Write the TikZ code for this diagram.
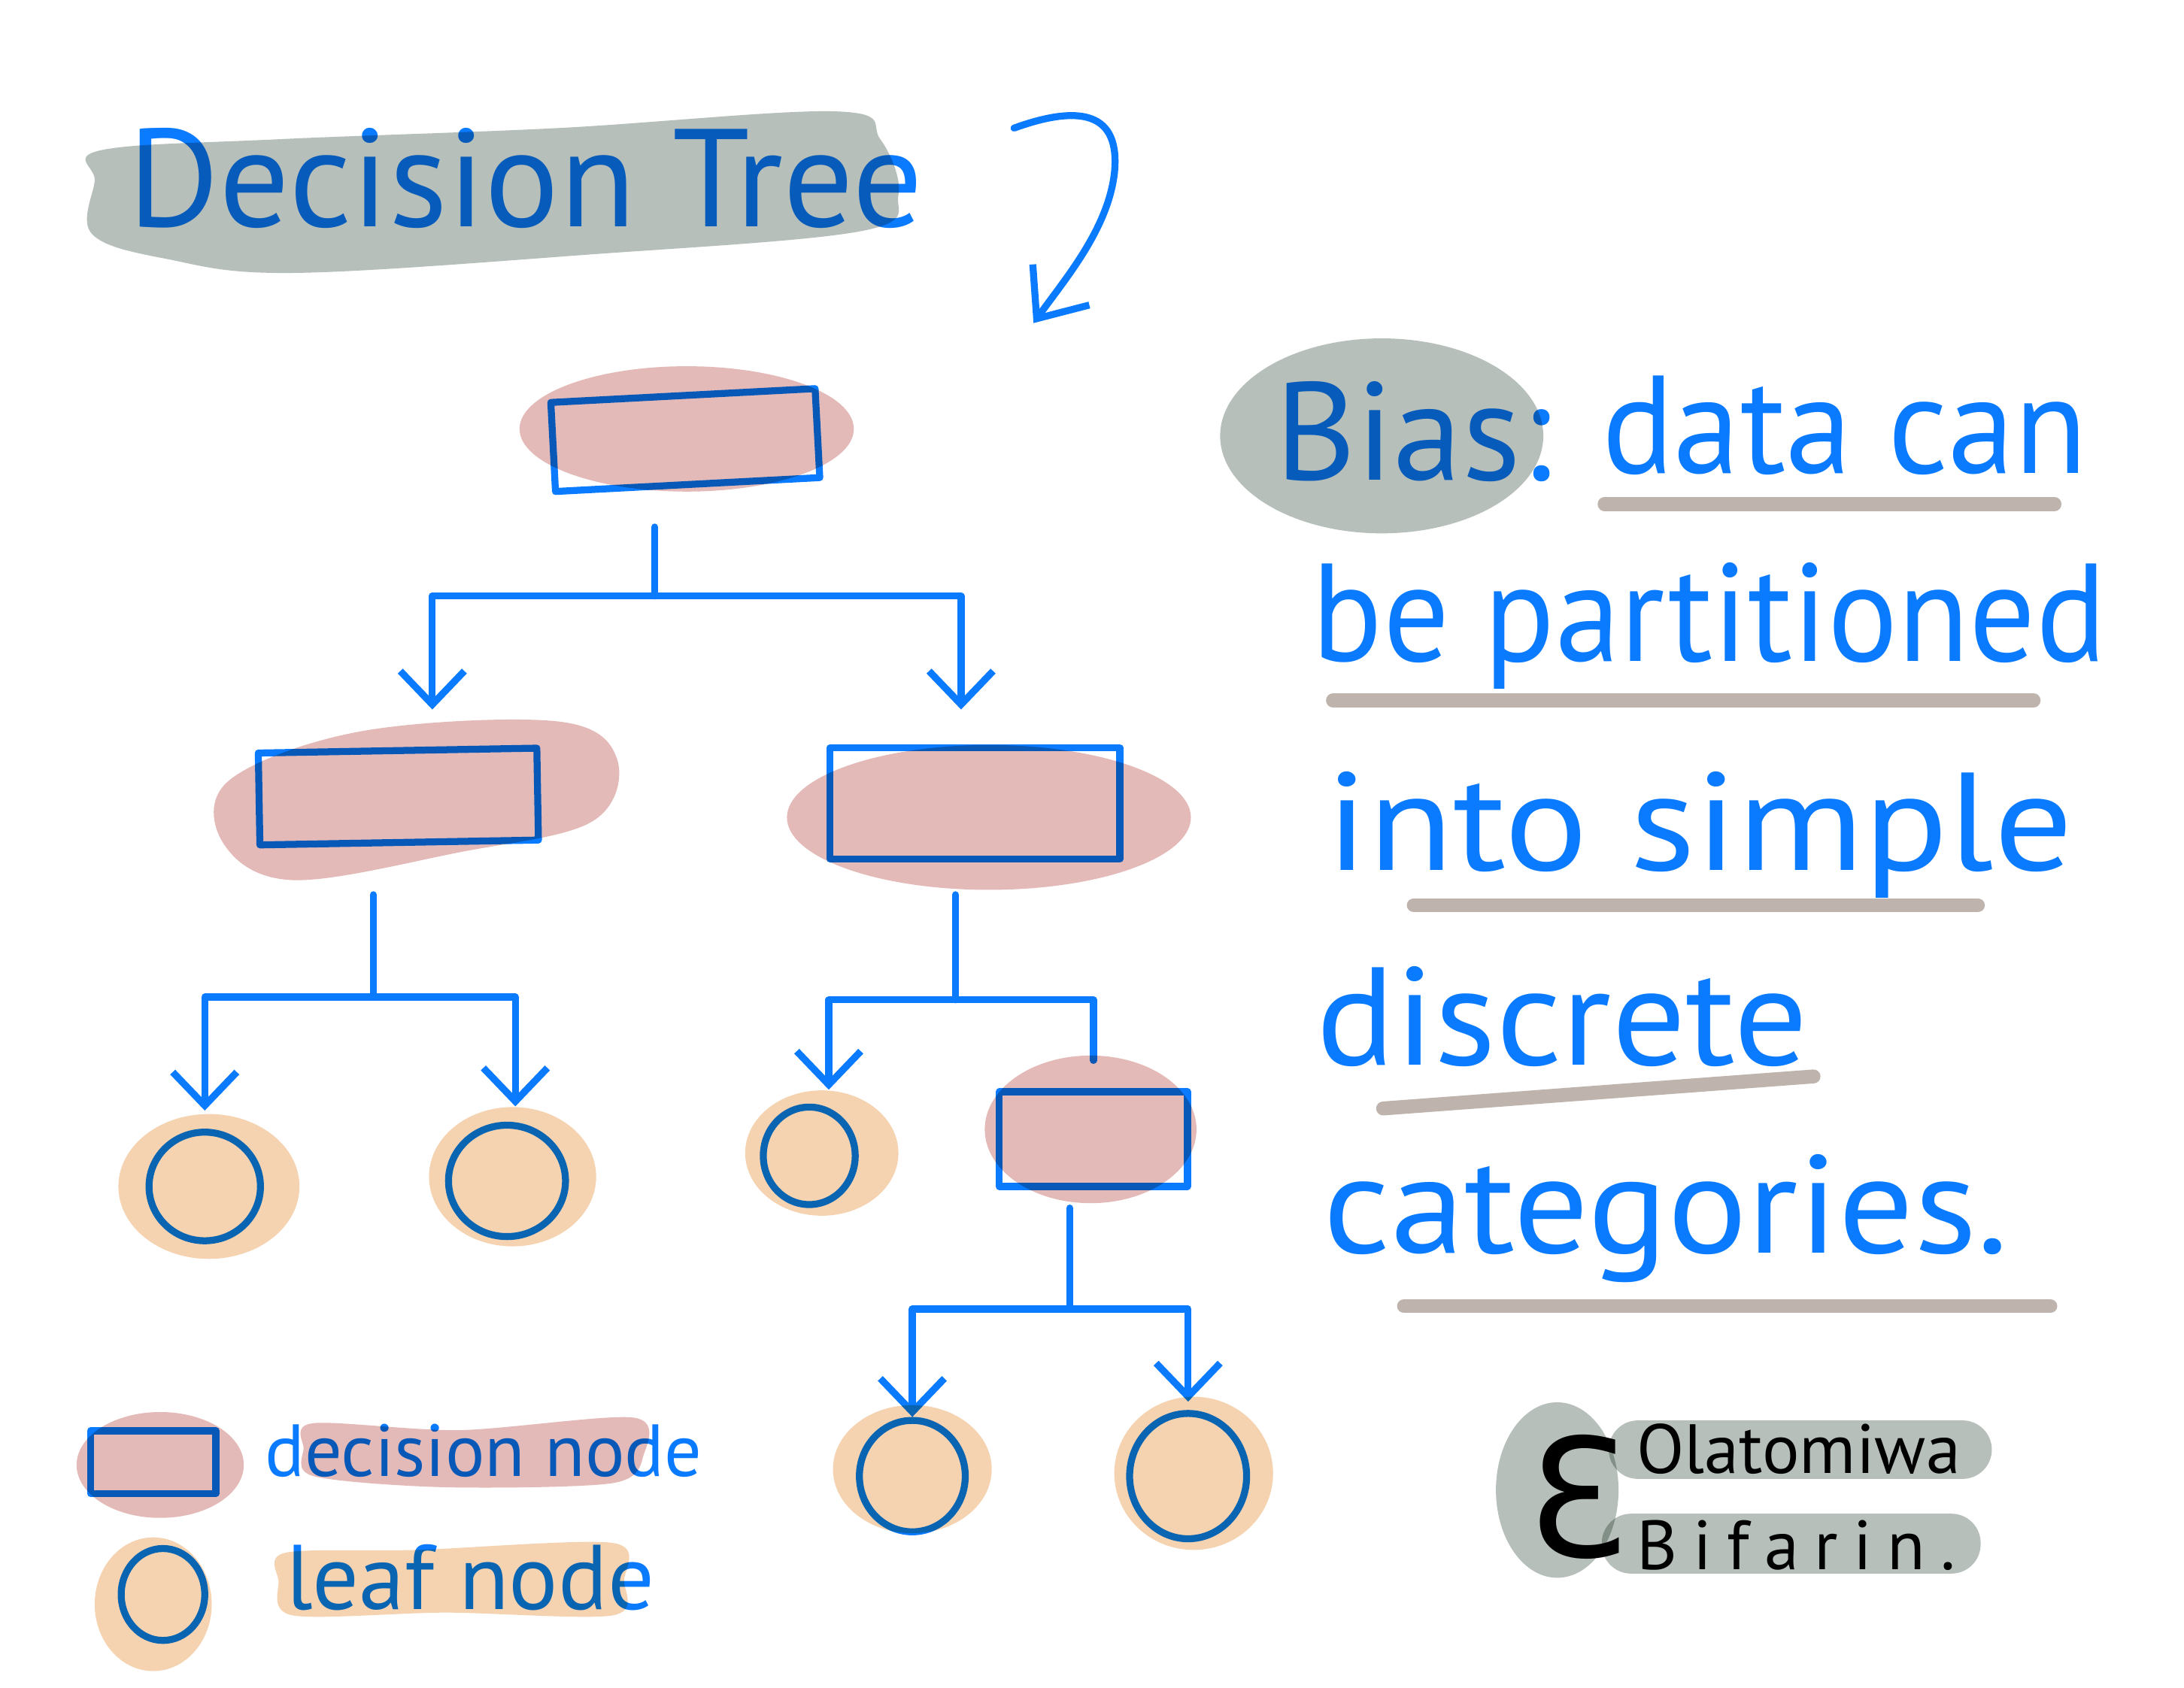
\documentclass[tikz,border=0pt]{standalone}
\usepackage{fontspec}
\setmainfont{PT Sans}
\newfontfamily\initfont{DejaVu Sans}
\usetikzlibrary{arrows.meta,shapes.geometric}
\definecolor{penblue}{RGB}{10,122,255}
\definecolor{blobgray}{RGB}{182,191,186}
\definecolor{decpink}{RGB}{228,186,184}
\definecolor{leafpeach}{RGB}{245,211,177}
\definecolor{linetan}{RGB}{190,180,173}
\tikzset{
  pen/.style={draw=penblue, line width=5pt, line cap=round, line join=round},
  decision/.style={pen, rectangle, inner sep=0pt},
  leaf/.style={pen, ellipse, inner sep=0pt},
  stem/.style={pen, shorten <=#1},
  stem/.default=25pt,
  arr/.style={pen, -{Straight Barb[length=24pt,width=46pt]}, shorten >=#1},
  arr/.default=12pt,
  hand/.style={text=penblue, anchor=base west, inner sep=0pt, transform shape, xscale=#1,
    font=\fontsize{100}{100}\selectfont},
  hand/.default=1,
  legend/.style={text=penblue, anchor=base west, inner sep=0pt},
  underline/.style={draw=linetan, line width=10pt, line cap=round},
  sign/.style={text=black, anchor=base west, inner sep=0pt,
    font=\fontsize{50}{50}\selectfont},
}
\begin{document}
\begin{tikzpicture}[x=1pt,y=-1pt]
  \useasboundingbox (0,0) rectangle (1568,1212);
  \fill[white] (0,0) rectangle (1568,1212);

  % title and pointer
  \node[hand] (title) at (92,163) {Decision Tree};
  \draw[pen, -{Straight Barb[length=30pt,width=50pt]}] (728,92) .. controls (775,75) and (805,80) .. (800,125)
    .. controls (795,165) and (765,200) .. (742,232);

  % tree nodes
  \node[decision, minimum width=190pt, minimum height=64pt, rotate=3] (root) at (492,316) {};
  \node[decision, minimum width=200pt, minimum height=66pt, rotate=1] (left) at (286,572) {};
  \node[decision, minimum width=208pt, minimum height=80pt] (right) at (700,577) {};
  \node[decision, minimum width=135pt, minimum height=68pt] (small) at (785,818) {};
  \node[leaf, minimum width=80pt, minimum height=78pt] (leafa) at (147,852) {};
  \node[leaf, minimum width=84pt, minimum height=80pt] (leafb) at (364,848) {};
  \node[leaf, minimum width=66pt, minimum height=70pt] (leafc) at (581,830) {};
  \node[leaf, minimum width=76pt, minimum height=80pt] (leafd) at (655,1060) {};
  \node[leaf, minimum width=84pt, minimum height=90pt] (leafe) at (853,1060) {};

  % connectors
  \coordinate (ja) at (470,428);
  \coordinate (jb) at (268,716);
  \coordinate (jc) at (686,718);
  \coordinate (jd) at (768,940);
  \draw[stem=28pt] (root.south -| ja) -- (ja);
  \draw[arr=27pt] (ja) -| ([xshift=25pt]left.north);
  \draw[arr=25pt] (ja) -| ([xshift=-10pt]right.north);
  \draw[stem=35pt] (left.south -| jb) -- (jb);
  \draw[arr=13pt] (jb) -| (leafa.north);
  \draw[arr=11pt] (jb) -| ([xshift=6pt]leafb.north);
  \draw[stem=23pt] (right.south -| jc) -- (jc);
  \draw[arr=10pt] (jc) -| ([xshift=14pt]leafc.north);
  \draw[pen, shorten >=20pt] (jc) -| (small.north);
  \draw[stem=13pt] (small.south -| jd) -- (jd);
  \draw[arr=0pt] (jd) -| (leafd.north);
  \draw[arr=6pt] (jd) -| (leafe.north);

  % legend
  \node[decision, minimum width=90pt, minimum height=45pt] (legdec) at (110,1050) {};
  \node[leaf, minimum width=60pt, minimum height=66pt] (legleaf) at (117,1145) {};
  \node[legend, font=\fontsize{53}{53}\selectfont] (legdectext) at (190,1060) {decision node};
  \node[legend, font=\fontsize{66}{66}\selectfont] (legleaftext) at (205,1156) {leaf node};

  % bias statement
  \draw[underline] (1152,362) -- (1475,362);
  \draw[underline] (957,503) -- (1460,503);
  \draw[underline] (1015,650) -- (1420,650);
  \draw[underline] (993,796) -- (1302,773);
  \draw[underline] (1008,938) -- (1472,938);
  \node[hand] (bias) at (915,345) {Bias:};
  \node[hand=0.96] (lineone) at (1150,340) {data can};
  \node[hand=0.94] (linetwo) at (942,475) {be partitioned};
  \node[hand=1.12] (linethree) at (952,625) {into simple};
  \node[hand=1.05] (linefour) at (945,765) {discrete};
  \node[hand=1.07] (linefive) at (950,900) {categories.};

  % signature
  \node[sign, font=\initfont\fontsize{118}{118}\selectfont] (initial) at (1096,1118) {Ɛ};
  \node[sign] (firstname) at (1175,1058) {Olatomiwa};
  \node[sign, font=\addfontfeature{LetterSpace=22}\fontsize{50}{50}\selectfont] (lastname) at (1175,1127) {Bifarin.};

  % highlight blobs
  \begin{scope}[blend mode=multiply]
    \fill[blobgray] plot[smooth cycle, tension=0.6] coordinates {(72,108) (200,100) (400,92) (600,80) (632,100)
      (645,140) (618,166) (420,183) (210,196) (120,186) (66,168) (68,130)};
    \fill[blobgray] (992,313) ellipse [x radius=116, y radius=70];
    \fill[blobgray] (1118,1070) ellipse [x radius=44, y radius=63];
    \fill[blobgray, rounded corners=21pt] (1155,1020) rectangle (1430,1062);
    \fill[blobgray, rounded corners=21pt] (1150,1087) rectangle (1422,1130);
    \fill[decpink] (493,308) ellipse [x radius=120, y radius=45];
    \fill[decpink] plot[smooth cycle, tension=0.6] coordinates {(165,560) (260,525) (400,518) (443,545)
      (425,590) (330,612) (210,632) (160,605)};
    \fill[decpink] (710,587) ellipse [x radius=145, y radius=52];
    \fill[decpink] (783,811) ellipse [x radius=76, y radius=53];
    \fill[decpink] (115,1052) ellipse [x radius=60, y radius=38];
    \fill[decpink] plot[smooth cycle] coordinates {(225,1022) (330,1027) (455,1018) (462,1045) (440,1065)
      (320,1068) (225,1060) (218,1040)};
    \fill[leafpeach] (150,852) ellipse [x radius=65, y radius=52];
    \fill[leafpeach] (368,845) ellipse [x radius=60, y radius=50];
    \fill[leafpeach] (590,828) ellipse [x radius=55, y radius=45];
    \fill[leafpeach] (655,1055) ellipse [x radius=57, y radius=46];
    \fill[leafpeach] (857,1058) ellipse [x radius=57, y radius=55];
    \fill[leafpeach] (110,1152) ellipse [x radius=42, y radius=48];
    \fill[leafpeach] plot[smooth cycle] coordinates {(205,1115) (300,1113) (440,1108) (448,1135) (440,1160)
      (320,1158) (210,1160) (200,1135)};
  \end{scope}
\end{tikzpicture}
\end{document}
